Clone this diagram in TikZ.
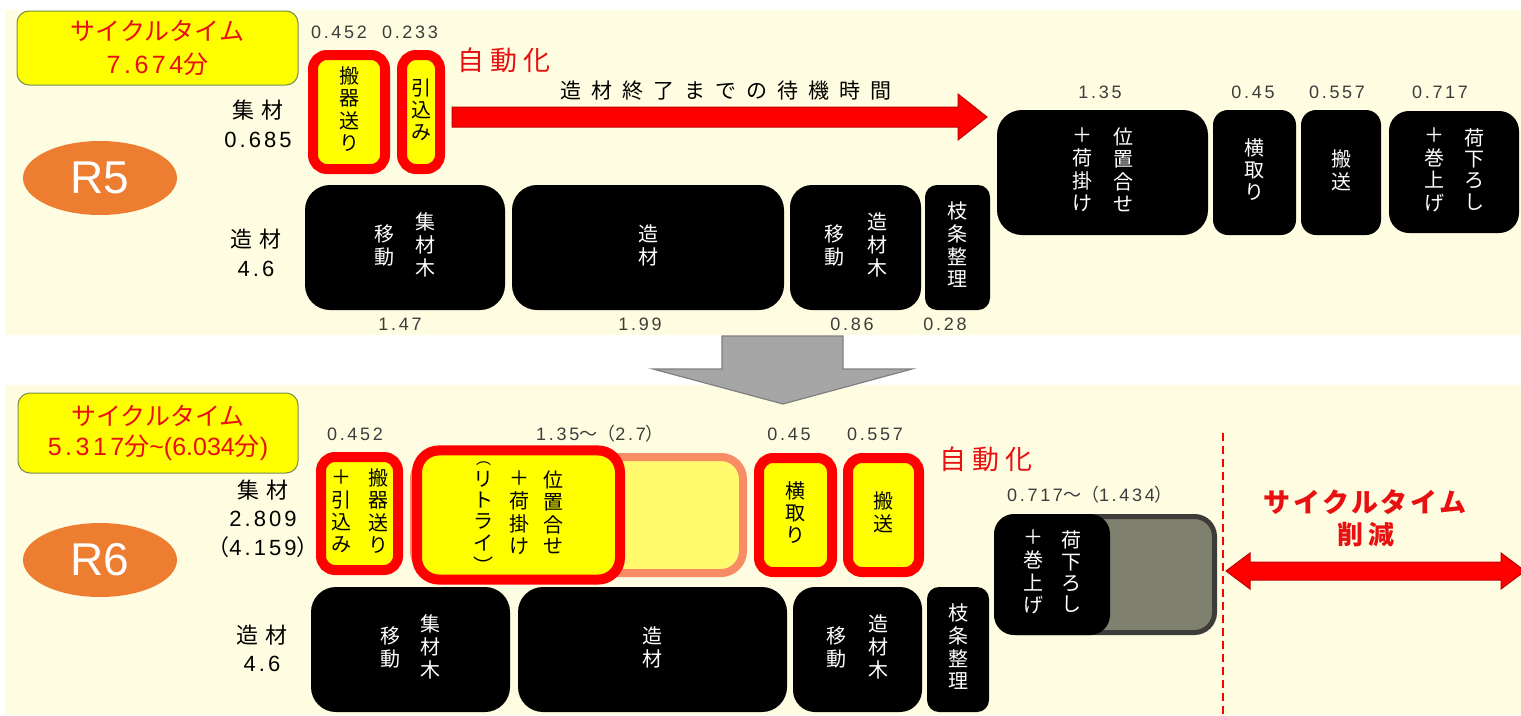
\documentclass[tikz,border=0pt]{standalone}
\usepackage{fontspec}
\setmainfont{Noto Sans CJK JP}
\newfontfamily\cjk{Noto Sans CJK JP}
\newfontfamily\latinsans{Liberation Sans}
\newfontfamily\numfont{Liberation Sans}[LetterSpace=15]
\newfontfamily\labnum{Liberation Sans}[LetterSpace=14]
\usetikzlibrary{calc,shapes.geometric}
\definecolor{cream}{RGB}{255,253,225}
\definecolor{ylw}{RGB}{255,255,0}
\definecolor{redb}{RGB}{255,0,0}
\definecolor{redt}{RGB}{232,16,16}
\definecolor{darkred}{RGB}{190,0,0}
\definecolor{orng}{RGB}{237,125,49}
\definecolor{numgray}{RGB}{60,60,60}
\definecolor{cycedge}{RGB}{120,140,80}
\definecolor{arrgray}{RGB}{166,166,166}
\definecolor{arredge}{RGB}{128,128,128}
\definecolor{ghostfill}{RGB}{255,250,110}
\definecolor{ghostedge}{RGB}{248,140,100}
\definecolor{extfill}{RGB}{128,128,112}
\definecolor{extedge}{RGB}{60,60,56}
\newcommand\vcol[1]{\begin{tabular}[c]{@{}c@{}}#1\end{tabular}}
\newcommand\vfont{\fontsize{20}{20.5}\selectfont}
\begin{document}
\begin{tikzpicture}[x=1pt,y=-1pt,
  blk/.style={fill=black, text=white, draw=none, inner sep=0pt, font=\vfont, rounded corners=#1},
  blk/.default=20pt,
  ybox/.style={fill=ylw, draw=redb, line width=10pt, inner sep=0pt, font=\vfont, rounded corners=#1},
  ybox/.default=14pt,
  cycbox/.style={fill=ylw, draw=cycedge, line width=1pt, rounded corners=12pt, text=redt, align=center, inner sep=0pt},
  rnode/.style={ellipse, fill=orng, draw=none, text=white, font=\latinsans\fontsize{46}{46}\selectfont, minimum width=154pt, minimum height=74pt, inner sep=0pt},
  num/.style={text=numgray, font=\numfont\fontsize{18}{18}\selectfont, inner sep=0pt},
  lab/.style={font=\fontsize{22}{28.5}\selectfont\addfontfeatures{LetterSpace=30}, align=center, inner sep=0pt},
  redlab/.style={text=redt, inner sep=0pt}
]
\useasboundingbox (0,0) rectangle (1521,715);
\begin{scope}
\clip (0,0) rectangle (1521,715);
\fill[white] (0,0) rectangle (1521,715);
\fill[cream] (5,10) rectangle (1521,335);
\fill[cream] (5,385) rectangle (1521,715);

% ---------- top panel (R5) ----------
\node[cycbox, minimum width=281pt, minimum height=74pt, font=\fontsize{25}{33}\selectfont] (cyc1) at (157.5,48) {サイクルタイム\\{\labnum 7.674}分};
\node[rnode] (r5) at (100,178) {R5};
\node[lab] (l1) at (258,124) {集材\\{\labnum 0.685}};
\node[lab] (l2) at (256,253) {造材\\{\labnum 4.6}};

\node[num] (n1) at (339,32) {0.452};
\node[num] (n2) at (410,32) {0.233};
\node[ybox, minimum width=72pt, minimum height=114pt] (yA) at (349,112) {\vcol{搬\\器\\送\\り}};
\node[ybox, minimum width=38pt, minimum height=114pt] (yB) at (421,112) {\vcol{引\\込\\み}};
\node[redlab, font=\fontsize{27}{27}\selectfont\addfontfeatures{LetterSpace=24}] (auto1) at (504,60) {自動化};

\filldraw[fill=redb, draw=darkred, line width=1pt] (452,107) -- (958,107) -- (958,94) -- (987,117) -- (958,140) -- (958,127) -- (452,127) -- cycle;
\node[inner sep=0pt, font=\fontsize{21}{21}\selectfont\addfontfeatures{LetterSpace=48}] (wait) at (726,91) {造材終了までの待機時間};

\node[blk=25pt, minimum width=200pt, minimum height=125pt] (b1) at (405,247.5) {\vcol{移\\動}\hspace{21pt}\vcol{集\\材\\木}};
\node[blk=25pt, minimum width=272pt, minimum height=125pt] (b2) at (648,247.5) {\vcol{造\\材}};
\node[blk=22pt, minimum width=131pt, minimum height=125pt] (b3) at (855.5,247.5) {\vcol{移\\動}\hspace{23pt}\vcol{造\\材\\木}};
\node[blk=12pt, minimum width=65pt, minimum height=125pt] (b4) at (957.5,247.5) {\vcol{枝\\条\\整\\理}};
\node[num] (n3) at (400,324) {1.47};
\node[num] (n4) at (640,324) {1.99};
\node[num] (n5) at (852,324) {0.86};
\node[num] (n6) at (945,324) {0.28};

\node[blk=25pt, minimum width=211pt, minimum height=125pt] (b5) at (1102.5,172.5) {\vcol{＋\\荷\\掛\\け}\hspace{21pt}\vcol{位\\置\\合\\せ}};
\node[blk=15pt, minimum width=83pt, minimum height=125pt] (b6) at (1254.5,172.5) {\vcol{横\\取\\り}};
\node[blk=15pt, minimum width=80pt, minimum height=125pt] (b7) at (1341,172.5) {\vcol{搬\\送}};
\node[blk=20pt, minimum width=130pt, minimum height=122pt] (b8) at (1454,172) {\vcol{＋\\巻\\上\\げ}\hspace{20pt}\vcol{荷\\下\\ろ\\し}};
\node[num] (n7) at (1100,92) {1.35};
\node[num] (n8) at (1253,92) {0.45};
\node[num] (n9) at (1337,92) {0.557};
\node[num] (n10) at (1440,92) {0.717};

% ---------- transition arrow ----------
\filldraw[fill=arrgray, draw=arredge, line width=1.2pt] (722,336) -- (843,336) -- (843,369) -- (912,369) -- (783,404) -- (653,369) -- (722,369) -- cycle;

% ---------- bottom panel (R6) ----------
\node[cycbox, minimum width=280pt, minimum height=80pt, font=\fontsize{25}{30}\selectfont] (cyc2) at (158,433) {サイクルタイム\\{\labnum 5.317}分{\latinsans\textasciitilde(6.034}分{\latinsans )}};
\node[rnode] (r6) at (100,560) {R6};
\node[lab] (l3) at (263,518.5) {集材\\{\labnum 2.809}\\（{\labnum 4.159}）};
\node[lab] (l4) at (262,648.5) {造材\\{\labnum 4.6}};

\node[num] (m1) at (355,434) {0.452};
\node[num] (m2) at (600,434) {1.35{\cjk ～（}2.7{\cjk ）}};
\node[num] (m3) at (789,434) {0.45};
\node[num] (m4) at (875,434) {0.557};
\node[redlab, font=\fontsize{27}{27}\selectfont\addfontfeatures{LetterSpace=24}] (auto2) at (986,459) {自動化};

\node[ybox, minimum width=77pt, minimum height=113pt] (yC) at (359.5,513.5) {\vcol{＋\\引\\込\\み}\hspace{17pt}\vcol{搬\\器\\送\\り}};
\node[fill=ghostfill, draw=ghostedge, line width=8pt, rounded corners=22pt, minimum width=329pt, minimum height=116pt, inner sep=0pt] (ghost) at (578.5,515) {};
\node[ybox=22pt, minimum width=203pt, minimum height=114pt] (yD) at (518.5,515) {\vcol{\fontsize{15}{13.8}\selectfont ︵\\リ\\ト\\ラ\\イ\\︶}\hspace{16pt}\vcol{＋\\荷\\掛\\け}\hspace{14pt}\vcol{位\\置\\合\\せ}};
\node[ybox, minimum width=73pt, minimum height=114pt] (yE) at (795.5,515) {\vcol{横\\取\\り}};
\node[ybox, minimum width=71pt, minimum height=114pt] (yF) at (883.5,515) {\vcol{搬\\送}};

\node[blk=25pt, minimum width=199pt, minimum height=125pt] (c1) at (410.5,649.5) {\vcol{移\\動}\hspace{20pt}\vcol{集\\材\\木}};
\node[blk=25pt, minimum width=269pt, minimum height=125pt] (c2) at (652.5,649.5) {\vcol{造\\材}};
\node[blk=22pt, minimum width=129pt, minimum height=125pt] (c3) at (857.5,649.5) {\vcol{移\\動}\hspace{22pt}\vcol{造\\材\\木}};
\node[blk=12pt, minimum width=62pt, minimum height=125pt] (c4) at (958,649.5) {\vcol{枝\\条\\整\\理}};

\node[num] (m5) at (1090,495) {0.717{\cjk ～（}1.434{\cjk ）}};
\node[fill=extfill, draw=extedge, line width=5pt, rounded corners=20pt, minimum width=218pt, minimum height=116pt, inner sep=0pt] (ext) at (1105.5,574.5) {};
\node[blk=20pt, minimum width=116pt, minimum height=121pt] (b9) at (1052,574.5) {\vcol{＋\\巻\\上\\げ}\hspace{18pt}\vcol{荷\\下\\ろ\\し}};

\coordinate (dl1) at (1223,433);
\coordinate (dl2) at (1223,715);
\draw[redb, line width=2.5pt, dash pattern=on 8pt off 5pt] (dl1) -- (dl2);

\filldraw[fill=redb, draw=darkred, line width=1pt] (1226,571) -- (1250,553) -- (1250,562) -- (1501,562) -- (1501,553) -- (1525,571) -- (1501,589) -- (1501,580) -- (1250,580) -- (1250,589) -- cycle;
\node[redlab, font=\fontsize{27}{27}\selectfont\bfseries\addfontfeatures{LetterSpace=10}] (ct1) at (1365,502) {サイクルタイム};
\node[redlab, font=\fontsize{26}{26}\selectfont\bfseries\addfontfeatures{LetterSpace=22}] (ct2) at (1366,535) {削減};
\end{scope}
\end{tikzpicture}
\end{document}
